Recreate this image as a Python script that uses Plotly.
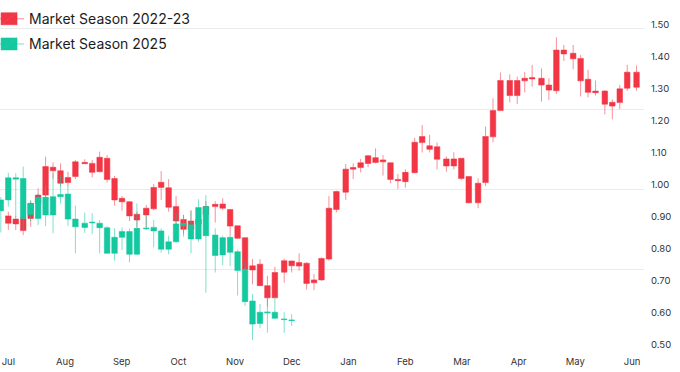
import plotly.graph_objects as go

# ---- axis labels ----
months = ["Jul", "Aug", "Sep", "Oct", "Nov", "Dec", "Jan", "Feb", "Mar", "Apr", "May", "Jun"]
y_ticks = [0.5, 0.6, 0.7, 0.8, 0.9, 1.0, 1.1, 1.2, 1.3, 1.4, 1.5]

# ---- Market Season 2022-23 (season day, OHLC) ----
red_day = [0, 4, 8, 12, 16, 20, 24, 28, 32, 36, 41, 45, 49, 53, 57, 61, 65, 69, 74, 78,
           82, 86, 90, 94, 98, 102, 106, 111, 115, 119, 123, 127, 131, 135, 139, 143, 148, 152, 156, 160,
           164, 168, 172, 176, 181, 185, 189, 193, 197, 201, 205, 209, 213, 218, 222, 226, 230, 235, 239, 243,
           247, 252, 256, 260, 264, 269, 273, 277, 281, 286, 290, 294, 298, 303, 307, 311, 315, 320, 324, 328,
           332, 337]
red_open = [0.893, 0.906, 0.908, 0.908, 0.955, 0.981, 1.057, 1.057, 1.036, 1.039, 1.079, 1.080, 1.054, 1.096, 1.033, 0.971, 0.960, 0.921, 0.919, 0.938,
            1.005, 1.004, 0.945, 0.905, 0.900, 0.890, 0.920, 0.945, 0.953, 0.936, 0.885, 0.848, 0.760, 0.765, 0.698, 0.660, 0.740, 0.760, 0.770, 0.768,
            0.716, 0.716, 0.781, 0.936, 0.990, 1.062, 1.067, 1.080, 1.098, 1.091, 1.082, 1.030, 1.023, 1.051, 1.145, 1.135, 1.132, 1.094, 1.072, 1.096,
            1.039, 0.957, 1.020, 1.163, 1.245, 1.339, 1.292, 1.338, 1.344, 1.346, 1.325, 1.307, 1.422, 1.424, 1.408, 1.343, 1.306, 1.306, 1.271, 1.270,
            1.315, 1.365]
red_high = [0.929, 0.916, 0.911, 0.962, 1.002, 1.101, 1.083, 1.080, 1.054, 1.091, 1.093, 1.091, 1.117, 1.106, 1.041, 0.978, 0.962, 0.929, 0.950, 1.016,
            1.056, 1.031, 0.978, 0.919, 0.934, 0.910, 0.962, 0.962, 0.971, 0.936, 0.885, 0.848, 0.781, 0.781, 0.729, 0.757, 0.783, 0.776, 0.799, 0.771,
            0.734, 0.786, 0.978, 0.995, 1.078, 1.080, 1.094, 1.106, 1.127, 1.106, 1.082, 1.047, 1.062, 1.160, 1.200, 1.169, 1.145, 1.101, 1.115, 1.096,
            1.039, 1.033, 1.195, 1.283, 1.364, 1.358, 1.351, 1.365, 1.388, 1.377, 1.346, 1.474, 1.450, 1.450, 1.419, 1.372, 1.339, 1.309, 1.280, 1.325,
            1.388, 1.386]
red_low = [0.872, 0.872, 0.856, 0.882, 0.945, 0.945, 1.033, 1.010, 1.009, 1.031, 1.078, 1.036, 1.052, 1.020, 0.948, 0.932, 0.900, 0.880, 0.880, 0.934,
           0.966, 0.929, 0.872, 0.859, 0.856, 0.875, 0.900, 0.895, 0.934, 0.854, 0.844, 0.747, 0.702, 0.698, 0.632, 0.660, 0.707, 0.739, 0.745, 0.686,
           0.684, 0.713, 0.776, 0.927, 0.966, 1.031, 1.052, 1.068, 1.080, 1.042, 1.018, 1.000, 1.004, 1.049, 1.114, 1.114, 1.061, 1.054, 1.061, 1.028,
           0.955, 0.940, 1.009, 1.146, 1.245, 1.271, 1.266, 1.302, 1.320, 1.273, 1.278, 1.297, 1.400, 1.374, 1.289, 1.286, 1.292, 1.233, 1.218, 1.250,
           1.307, 1.307]
red_close = [0.916, 0.891, 0.870, 0.955, 0.981, 1.070, 1.068, 1.018, 1.020, 1.085, 1.083, 1.052, 1.099, 1.030, 0.966, 0.960, 0.916, 0.903, 0.940, 1.005,
             1.021, 0.943, 0.900, 0.874, 0.874, 0.905, 0.945, 0.952, 0.940, 0.884, 0.846, 0.749, 0.747, 0.698, 0.660, 0.739, 0.776, 0.775, 0.759, 0.705,
             0.707, 0.783, 0.940, 0.992, 1.062, 1.067, 1.082, 1.104, 1.083, 1.085, 1.030, 1.026, 1.052, 1.146, 1.164, 1.124, 1.093, 1.072, 1.094, 1.033,
             0.957, 1.018, 1.164, 1.245, 1.339, 1.292, 1.339, 1.346, 1.348, 1.325, 1.309, 1.434, 1.434, 1.407, 1.338, 1.302, 1.301, 1.265, 1.259, 1.313,
             1.365, 1.318]

# ---- Market Season 2025 (season day, OHLC) ----
teal_day = [-4, 0, 4, 8, 12, 16, 20, 24, 28, 32, 36, 41, 45, 49, 53, 57, 61, 65, 69, 74,
            78, 82, 86, 90, 94, 98, 102, 106, 111, 115, 119, 123, 127, 131, 135, 139, 143, 148, 152]
teal_open = [0.966, 0.966, 1.035, 1.033, 0.920, 0.974, 0.919, 0.976, 0.976, 0.984, 0.906, 0.893, 0.894, 0.893, 0.879, 0.799, 0.849, 0.867, 0.796, 0.878,
             0.880, 0.869, 0.812, 0.835, 0.885, 0.888, 0.844, 0.945, 0.856, 0.794, 0.849, 0.804, 0.749, 0.650, 0.580, 0.616, 0.615, 0.594, 0.591]
teal_high = [0.975, 1.051, 1.049, 1.070, 0.965, 0.986, 1.012, 1.049, 1.044, 1.012, 0.948, 0.926, 0.924, 0.903, 0.884, 0.877, 0.880, 0.877, 0.955, 0.919,
             0.903, 0.877, 0.854, 0.926, 0.919, 0.931, 0.968, 0.981, 0.877, 0.854, 0.854, 0.809, 0.775, 0.672, 0.641, 0.660, 0.664, 0.615, 0.609]
teal_low = [0.864, 0.945, 0.913, 0.872, 0.900, 0.887, 0.884, 0.862, 0.955, 0.884, 0.799, 0.863, 0.859, 0.799, 0.799, 0.776, 0.809, 0.771, 0.794, 0.872,
            0.818, 0.801, 0.796, 0.832, 0.851, 0.799, 0.835, 0.676, 0.739, 0.762, 0.759, 0.667, 0.635, 0.528, 0.565, 0.551, 0.594, 0.551, 0.572]
teal_close = [0.932, 1.035, 1.031, 0.908, 0.955, 0.908, 0.974, 0.919, 0.983, 0.906, 0.882, 0.880, 0.896, 0.879, 0.799, 0.849, 0.867, 0.796, 0.877, 0.876,
              0.869, 0.812, 0.835, 0.891, 0.893, 0.844, 0.942, 0.854, 0.792, 0.848, 0.802, 0.745, 0.648, 0.578, 0.615, 0.613, 0.596, 0.592, 0.589]

RED = "#F23645"
RED_WICK = "rgba(242,54,69,0.55)"
TEAL = "#14C8A0"
TEAL_WICK = "rgba(20,200,160,0.55)"

month_len = 365 / 12
tick_pos = [i * month_len for i in range(len(months))]
x_range = [-4.45, 341.0]
y_range = [0.4969, 1.5906]

fig = go.Figure()
fig.add_trace(go.Candlestick(
    x=red_day, open=red_open, high=red_high, low=red_low, close=red_close,
    name="Market Season 2022-23", legendgroup="s1",
    increasing=dict(fillcolor=RED, line=dict(color=RED_WICK, width=1)),
    decreasing=dict(fillcolor=RED, line=dict(color=RED_WICK, width=1)),
    xaxis="x", yaxis="y",
))
fig.add_trace(go.Candlestick(
    x=teal_day, open=teal_open, high=teal_high, low=teal_low, close=teal_close,
    name="Market Season 2025", legendgroup="s2",
    increasing=dict(fillcolor=TEAL, line=dict(color=TEAL_WICK, width=1)),
    decreasing=dict(fillcolor=TEAL, line=dict(color=TEAL_WICK, width=1)),
    xaxis="x2", yaxis="y2",
))

tick_font = dict(family="Inter", size=9.5, color="#333333")
fig.update_layout(
    width=680, height=372,
    margin=dict(l=0, r=36, t=0, b=22, autoexpand=False),
    paper_bgcolor="white", plot_bgcolor="white",
    boxgap=0.14, boxgroupgap=0.14,
    font=dict(family="Inter", color="#1c1c1c"),
    xaxis=dict(range=x_range, tickvals=tick_pos, ticktext=months, showgrid=False,
               zeroline=False, showline=False, ticks="", tickfont=tick_font,
               ticklabelstandoff=4, automargin=False,
               rangeslider=dict(visible=False), fixedrange=True),
    xaxis2=dict(range=x_range, overlaying="x", matches="x", visible=False,
                automargin=False, rangeslider=dict(visible=False)),
    yaxis=dict(range=y_range, side="right", dtick=0.25, tick0=0.5, showgrid=True, automargin=False,
               gridcolor="#ebebeb", gridwidth=1, zeroline=False, showticklabels=False, ticks=""),
    yaxis2=dict(range=y_range, overlaying="y", matches="y", side="right", automargin=False,
                tickvals=y_ticks, tickformat=".2f", showgrid=False, zeroline=False,
                ticks="", tickfont=tick_font, ticklabelstandoff=6, ticklabelshift=-4),
    legend=dict(x=-0.017, y=0.991, xanchor="left", yanchor="top", bgcolor="rgba(0,0,0,0)",
                tracegroupgap=4,
                font=dict(family="Inter", size=14, color="#1c1c1c")),
    showlegend=True,
)

fig.write_html("out.html", config={"displayModeBar": False},
               post_script="document.body.style.margin='0';")
